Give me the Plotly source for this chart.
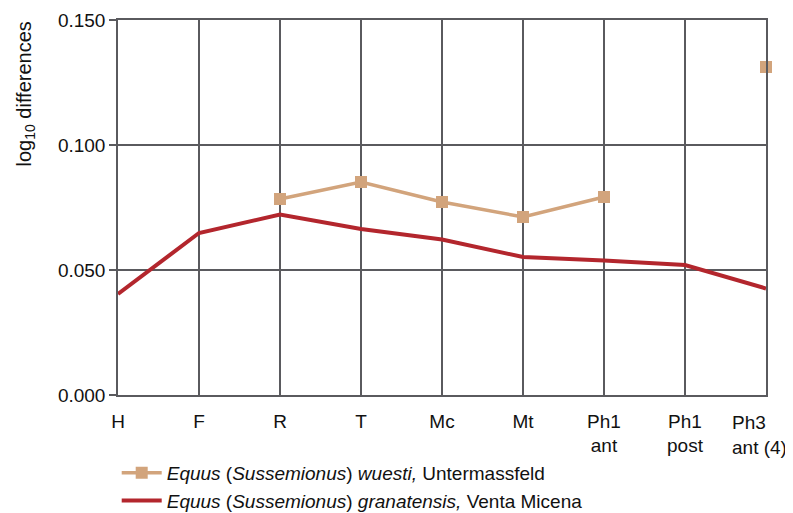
import plotly.graph_objects as go

TAN = "#d2a47c"
RED = "#b3262d"
GRID = "#5a5a5e"

bones = ["H", "F", "R", "T", "Mc", "Mt", "Ph1 ant", "Ph1 post", "Ph3 ant (4)"]
bone_labels = ["H", "F", "R", "T", "Mc", "Mt", "Ph1<br>ant", "Ph1<br>post", "Ph3<br>ant (4)"]
wuesti = [None, None, 0.0784, 0.0852, 0.0772, 0.0712, 0.0792, None, 0.1312]
granatensis = [0.0404, 0.0648, 0.0722, 0.0664, 0.0622, 0.0552, 0.0538, 0.0520, 0.0426]
y_ticks = [0.0, 0.05, 0.10, 0.15]

FONT = "Liberation Sans, Arial, sans-serif"

fig = go.Figure()
fig.add_trace(
    go.Scatter(
        x=bones,
        y=wuesti,
        mode="lines+markers",
        name="<i>Equus</i> (<i>Sussemionus</i>) <i>wuesti,</i> Untermassfeld",
        line={"color": TAN, "width": 3.5},
        marker={"symbol": "square", "size": 12, "color": TAN},
        connectgaps=False,
        cliponaxis=False,
    )
)
fig.add_trace(
    go.Scatter(
        x=bones,
        y=granatensis,
        mode="lines",
        name="<i>Equus</i> (<i>Sussemionus</i>) <i>granatensis,</i> Venta Micena",
        line={"color": RED, "width": 4},
        cliponaxis=False,
    )
)

axis_common = {
    "showgrid": True,
    "gridcolor": GRID,
    "gridwidth": 1.5,
    "showline": True,
    "linecolor": GRID,
    "linewidth": 1.5,
    "mirror": True,
    "automargin": False,
    "tickfont": {"size": 19},
}

# the page body has an 8px margin, so the figure is 8px smaller than the window
fig.update_layout(
    width=785,
    height=505,
    paper_bgcolor="white",
    plot_bgcolor="white",
    margin={"l": 110, "r": 27, "t": 12, "b": 118},
    font={"family": FONT, "color": "#111111", "size": 19},
    showlegend=True,
    legend={
        "orientation": "v",
        "xref": "paper",
        "x": -0.002,
        "xanchor": "left",
        "yref": "container",
        "y": 0.117,
        "yanchor": "top",
        "font": {"size": 19},
        "tracegroupgap": 0,
        "itemwidth": 40,
        "bgcolor": "rgba(0,0,0,0)",
    },
    xaxis={
        **axis_common,
        "type": "category",
        "categoryorder": "array",
        "categoryarray": bones,
        # the last label sits against the right edge, drawn below as a left-aligned note
        "tickvals": bones[:-1],
        "ticktext": bone_labels[:-1],
        "range": [0, len(bones) - 1],
        "ticks": "",
        "ticklabelstandoff": 8,
    },
    yaxis={
        **axis_common,
        "range": [0, 0.15],
        "tickvals": y_ticks,
        "tickformat": ".3f",
        "zeroline": False,
        "ticks": "outside",
        "ticklen": 7,
        "tickcolor": GRID,
        "tickwidth": 1.5,
    },
)

fig.add_annotation(
    text=bone_labels[-1],
    xref="x",
    yref="paper",
    x=bones[-1],
    y=0,
    xshift=-36,
    yshift=-15,
    xanchor="left",
    yanchor="top",
    align="left",
    showarrow=False,
    font={"size": 19, "family": FONT},
)

fig.add_annotation(
    text="log<sub>10</sub> differences",
    xref="paper",
    yref="paper",
    x=-0.1435,
    y=1.0,
    xanchor="center",
    yanchor="top",
    textangle=-90,
    showarrow=False,
    font={"size": 20, "family": FONT},
)

fig.write_html("out.html")
